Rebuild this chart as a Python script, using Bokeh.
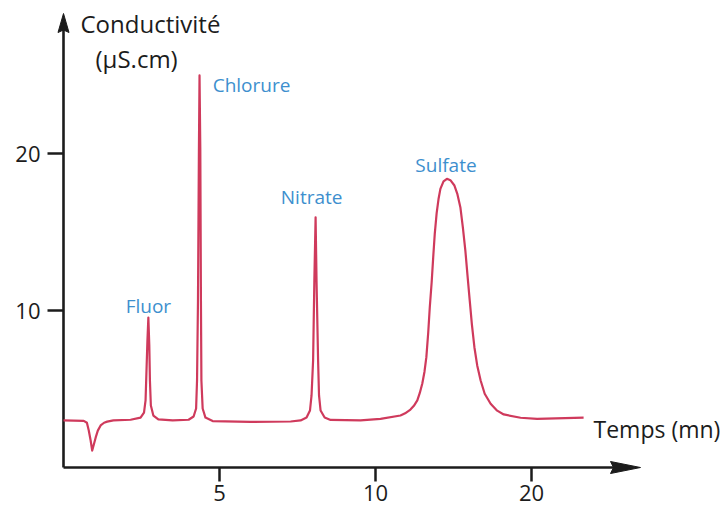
from bokeh.plotting import figure
from bokeh.models import Range1d, LinearAxis, FixedTicker, ColumnDataSource
from bokeh.core.properties import value
from bokeh.embed import file_html
from bokeh.resources import INLINE

# ---------------- data ----------------
time_min = [
    0.00, 0.65, 0.75, 0.81, 0.87, 0.92, 0.97, 1.03, 1.10, 1.19, 1.30, 1.40, 1.60,
    2.15, 2.47, 2.58, 2.63, 2.66, 2.69, 2.72, 2.75, 2.77, 2.80, 2.88, 3.04,
    3.50, 4.01, 4.17, 4.25, 4.28, 4.31, 4.34, 4.36, 4.385, 4.405, 4.42, 4.46, 4.55, 4.78,
    5.99, 7.28, 7.60, 7.79, 7.90, 7.95, 8.00, 8.04, 8.08, 8.11, 8.16, 8.19, 8.24, 8.37, 8.56,
    9.52, 10.16, 10.80, 10.95, 11.12, 11.23, 11.34, 11.42, 11.50, 11.57, 11.63, 11.69, 11.74,
    11.80, 11.85, 11.90, 11.96, 12.02, 12.08, 12.18, 12.29, 12.40, 12.53, 12.62, 12.72, 12.80,
    12.88, 12.95, 13.02, 13.09, 13.17, 13.26, 13.37, 13.50, 13.69, 13.90, 14.11, 14.65, 15.18,
    16.67,
]
conductivity = [
    3.00, 2.97, 2.85, 2.36, 1.72, 1.08, 1.45, 1.90, 2.35, 2.68, 2.85, 2.92, 3.00,
    3.04, 3.18, 3.50, 4.27, 6.18, 8.09, 9.55, 7.77, 5.54, 3.95, 3.31, 3.06,
    3.00, 3.04, 3.25, 3.76, 5.54, 10.6, 20.2, 24.97, 20.2, 10.6, 5.54, 3.76, 3.18, 2.96,
    2.90, 2.93, 3.00, 3.18, 3.63, 4.59, 6.82, 11.9, 15.94, 11.9, 6.82, 4.59, 3.63, 3.18, 3.03,
    3.00, 3.10, 3.31, 3.45, 3.69, 3.93, 4.27, 4.75, 5.35, 6.10, 7.03, 8.60, 10.21,
    11.80, 13.40, 14.90, 16.20, 17.10, 17.75, 18.22, 18.39, 18.30, 17.96, 17.45, 16.58, 15.30,
    13.82, 12.20, 10.64, 9.10, 7.66, 6.50, 5.54, 4.70, 4.06, 3.62, 3.38, 3.17, 3.10,
    3.18,
]
peak_names = ["Fluor", "Chlorure", "Nitrate", "Sulfate"]
peak_times = [2.72, 4.36, 8.08, 12.29]
peak_heights = [9.55, 24.97, 15.94, 18.39]

x_tick_values = [5, 10, 15]
x_tick_labels = ["5", "10", "20"]
y_tick_values = [10, 20]
y_tick_labels = ["10", "20"]
x_axis_title = "Temps (mn)"
y_axis_title = ["Conductivité", "(µS.cm)"]

# ---------------- layout ----------------
W, H = 723, 509
ORIGIN_X, ORIGIN_Y = 63, 467          # px of data origin inside the canvas
PX_PER_X, PX_PER_Y = 31.2, 15.7       # px per data unit
X_END = (640 - ORIGIN_X) / PX_PER_X   # tip of x arrow
Y_END = (ORIGIN_Y - 13) / PX_PER_Y    # tip of y arrow
FONT = "Open Sans"
INK = "#1c1c1c"
RED = "#cf3a5c"
BLUE = "#3d8fce"

p = figure(width=W, height=H, output_backend="svg", toolbar_location=None,
           x_axis_type=None, y_axis_type=None,
           x_range=Range1d(-ORIGIN_X / PX_PER_X, (W - ORIGIN_X) / PX_PER_X),
           y_range=Range1d(-(H - ORIGIN_Y) / PX_PER_Y, ORIGIN_Y / PX_PER_Y),
           min_border_left=0, min_border_right=0, min_border_top=0, min_border_bottom=0,
           outline_line_color=None, background_fill_color="white")

# axes (ticks + labels)
yaxis = LinearAxis(fixed_location=0, ticker=FixedTicker(ticks=y_tick_values),
                   major_label_overrides={v: t for v, t in zip(y_tick_values, y_tick_labels)},
                   axis_line_color=None, major_tick_out=16, major_tick_in=0,
                   major_tick_line_width=2.5, major_tick_line_color=INK,
                   minor_tick_out=0, minor_tick_in=0,
                   major_label_standoff=7, major_label_text_font=FONT,
                   major_label_text_font_size="22px", major_label_text_color=INK)
p.add_layout(yaxis, "left")
xaxis = LinearAxis(fixed_location=0, ticker=FixedTicker(ticks=x_tick_values),
                   major_label_overrides={v: t for v, t in zip(x_tick_values, x_tick_labels)},
                   axis_line_color=None, major_tick_out=14, major_tick_in=0,
                   major_tick_line_width=2.5, major_tick_line_color=INK,
                   minor_tick_out=0, minor_tick_in=0,
                   major_label_standoff=3, major_label_text_font=FONT,
                   major_label_text_font_size="22px", major_label_text_color=INK)
p.add_layout(xaxis, "below")

# axis lines with arrow heads
yh = 19 / PX_PER_Y
xh = 30 / PX_PER_X
p.segment(x0=[0, 0], y0=[0, 0], x1=[0, X_END - xh * 0.8], y1=[Y_END - yh * 0.8, 0],
          line_color=INK, line_width=2.6)
p.patches(
    xs=[[0, 5.5 / PX_PER_X, 0, -5.5 / PX_PER_X],
        [X_END, X_END - xh, X_END - xh + 3 / PX_PER_X, X_END - xh]],
    ys=[[Y_END, Y_END - yh, Y_END - yh + 2.5 / PX_PER_Y, Y_END - yh],
        [0, 6 / PX_PER_Y, 0, -6 / PX_PER_Y]],
    fill_color=INK, line_color=INK, line_width=1)

# chromatogram
p.line(time_min, conductivity, line_color=RED, line_width=2.2, line_join="round")

# peak labels
lab = ColumnDataSource(dict(x=peak_times, y=peak_heights, t=peak_names,
                            dx=[0, 52, -4, -1], dy=[-12, 10, -20, -14]))
p.text(x="x", y="y", text="t", source=lab, x_offset="dx", y_offset="dy",
       text_align="center", text_baseline="middle", text_color=BLUE,
       text_font=value(FONT), text_font_size="19px")

# axis titles
p.text(x=[0, 0], y=[Y_END, Y_END], text=y_axis_title, x_offset=[17, 32], y_offset=[10, 45],
       text_align="left", text_baseline="middle", text_color=INK,
       text_font=value(FONT), text_font_size="24px")
p.text(x=[X_END], y=[0], text=[x_axis_title], x_offset=[-47], y_offset=[-39],
       text_align="left", text_baseline="middle", text_color=INK,
       text_font=value(FONT), text_font_size="23px")

open("out.html", "w").write(file_html(p, INLINE))
